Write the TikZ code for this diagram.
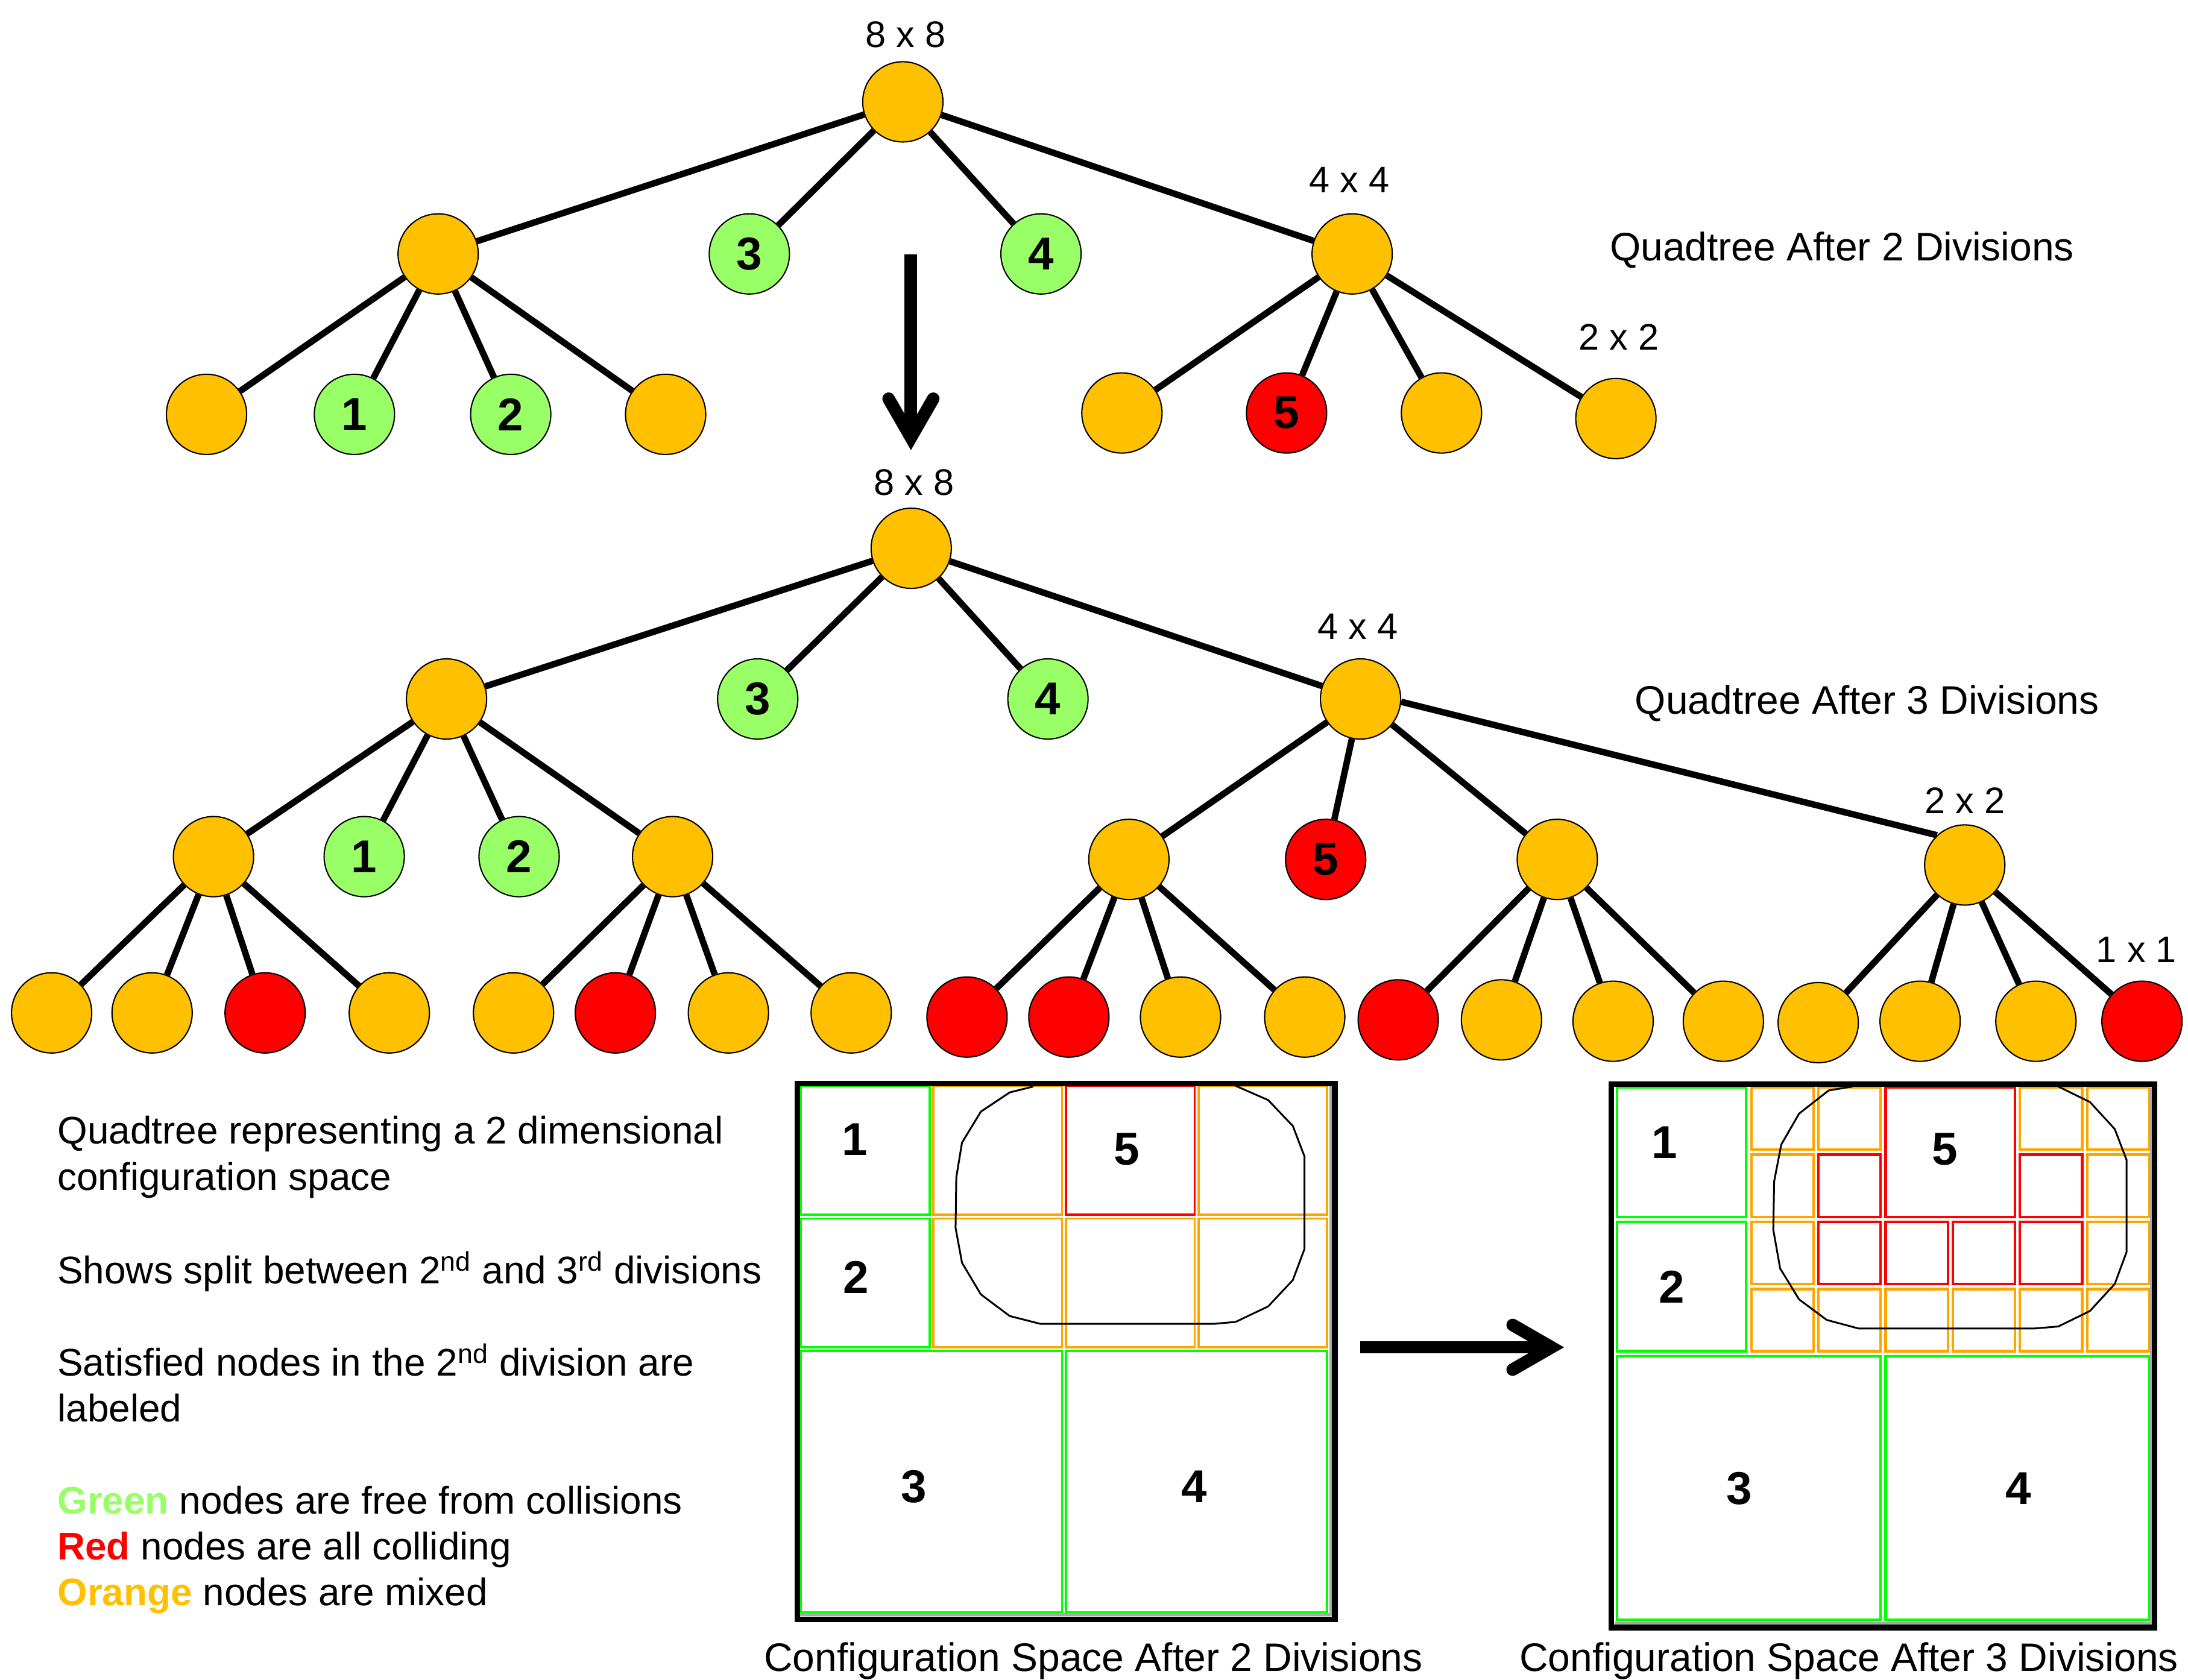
\documentclass[tikz,border=0pt]{standalone}
\usepackage{fontspec}
\setmainfont{Liberation Sans}
\definecolor{qorange}{HTML}{FFC000}
\definecolor{qgreen}{HTML}{99FF66}
\definecolor{qred}{HTML}{FF0000}
\definecolor{cgreen}{HTML}{00FF00}
\definecolor{corange}{HTML}{FFA500}
\definecolor{cred}{HTML}{FF0000}
\definecolor{shadowgray}{HTML}{A8A8A8}
\newcommand\qP{95}
\newcommand\qd{1.4}
\newcommand\qcell[4]{\draw[cellline,#4] ({#1*\qP+\qd},{#2*\qP+\qd}) rectangle ({(#1+#3)*\qP-\qd},{(#2+#3)*\qP-\qd});}
\tikzset{
  qnode/.style={circle, draw=black, line width=0.9pt, minimum size=57.5pt, inner sep=0pt,
    font=\fontsize{33}{33}\selectfont\bfseries},
  onode/.style={qnode, fill=qorange},
  gnode/.style={qnode, fill=qgreen},
  rnode/.style={qnode, fill=qred},
  treeline/.style={line width=4.6pt},
  szlabel/.style={anchor=base, inner sep=0pt, font=\fontsize{26.5}{30}\selectfont},
  titlelabel/.style={anchor=base, inner sep=0pt, font=\fontsize{28.5}{32}\selectfont},
  legendtext/.style={anchor=base west, inner sep=0pt, font=\fontsize{27.6}{32}\selectfont},
  cellnum/.style={inner sep=0pt, font=\fontsize{33}{33}\selectfont\bfseries},
  frameline/.style={line width=4pt},
  cellline/.style={line width=1.6pt},
  obstline/.style={line width=1.3pt, line join=round},
  shaftline/.style={line width=9pt},
  barbline/.style={line width=9pt, line cap=round, line join=miter},
}
\begin{document}
\begin{tikzpicture}[x=1pt, y=-1pt]
\useasboundingbox (0,0) rectangle (1568,1204);

% ---------------- Tree 1 ----------------
\node[onode] (a0) at (647,73) {};
\node[onode] (a1) at (314,182) {};
\node[gnode] (a2) at (537,182) {3};
\node[gnode] (a3) at (746,182) {4};
\node[onode] (a4) at (969,182) {};
\node[onode] (a11) at (148,297) {};
\node[gnode] (a12) at (254,297) {1};
\node[gnode] (a13) at (366,297) {2};
\node[onode] (a14) at (477,297) {};
\node[onode] (a41) at (804,296) {};
\node[rnode] (a42) at (922,296) {5};
\node[onode] (a43) at (1033,296) {};
\node[onode] (a44) at (1158,300) {};
\foreach \c in {a1,a2,a3,a4} \draw[treeline] (a0) -- (\c);
\foreach \c in {a11,a12,a13,a14} \draw[treeline] (a1) -- (\c);
\foreach \c in {a41,a42,a43,a44} \draw[treeline] (a4) -- (\c);
\node[szlabel] (la0) at (649,34) {8 x 8};
\node[szlabel] (la4) at (967,138) {4 x 4};
\node[szlabel] (la44) at (1160,251) {2 x 2};
\node[titlelabel] (t1) at (1320,187) {Quadtree After 2 Divisions};

% ---------------- Down arrow ----------------
\coordinate (dA) at (652.8,182.2);
\coordinate (dB) at (652.8,313.6);
\coordinate (dL) at (636.8,285.8);
\coordinate (dR) at (668.8,285.8);
\draw[shaftline] (dA) -- (dB);
\draw[barbline] (dL) -- (dB) -- (dR);

% ---------------- Tree 2 ----------------
\node[onode] (b0) at (653,393) {};
\node[onode] (b1) at (320,501) {};
\node[gnode] (b2) at (543,501) {3};
\node[gnode] (b3) at (751,501) {4};
\node[onode] (b4) at (975,501) {};
\node[onode] (b11) at (153,614) {};
\node[gnode] (b12) at (261,614) {1};
\node[gnode] (b13) at (372,614) {2};
\node[onode] (b14) at (482,614) {};
\node[onode] (b41) at (809,616) {};
\node[rnode] (b42) at (950,616) {5};
\node[onode] (b43) at (1116,616) {};
\node[onode] (b44) at (1408,620) {};
\node[onode] (c1) at (37,726) {};
\node[onode] (c2) at (109,726) {};
\node[rnode] (c3) at (190,726) {};
\node[onode] (c4) at (279,726) {};
\node[onode] (c5) at (368,726) {};
\node[rnode] (c6) at (441,726) {};
\node[onode] (c7) at (522,726) {};
\node[onode] (c8) at (610,726) {};
\node[rnode] (c9) at (693,729) {};
\node[rnode] (c10) at (766,729) {};
\node[onode] (c11) at (846,729) {};
\node[onode] (c12) at (935,729) {};
\node[rnode] (c13) at (1002,731) {};
\node[onode] (c14) at (1076,731) {};
\node[onode] (c15) at (1156,732) {};
\node[onode] (c16) at (1235,732) {};
\node[onode] (c17) at (1303,733) {};
\node[onode] (c18) at (1376,732) {};
\node[onode] (c19) at (1459,732) {};
\node[rnode] (c20) at (1535,732) {};
\foreach \c in {b1,b2,b3,b4} \draw[treeline] (b0) -- (\c);
\foreach \c in {b11,b12,b13,b14} \draw[treeline] (b1) -- (\c);
\foreach \c in {b41,b42,b43} \draw[treeline] (b4) -- (\c);
\draw[treeline] (b4.-4) -- (b44.133);
\foreach \c in {c1,c2,c3,c4} \draw[treeline] (b11) -- (\c);
\foreach \c in {c5,c6,c7,c8} \draw[treeline] (b14) -- (\c);
\foreach \c in {c9,c10,c11,c12} \draw[treeline] (b41) -- (\c);
\foreach \c in {c13,c14,c15,c16} \draw[treeline] (b43) -- (\c);
\foreach \c in {c17,c18,c19,c20} \draw[treeline] (b44) -- (\c);
\node[szlabel] (lb0) at (655,355) {8 x 8};
\node[szlabel] (lb4) at (973,458) {4 x 4};
\node[szlabel] (lb44) at (1408,583) {2 x 2};
\node[szlabel] (lc20) at (1531,690) {1 x 1};
\node[titlelabel] (t2) at (1338,512) {Quadtree After 3 Divisions};

% ---------------- Legend ----------------
\node[legendtext] (g1) at (41,820) {Quadtree representing a 2 dimensional};
\node[legendtext] (g2) at (41,853) {configuration space};
\node[legendtext] (g3) at (41,920) {Shows split between 2\textsuperscript{nd} and 3\textsuperscript{rd} divisions};
\node[legendtext] (g4) at (41,986) {Satisfied nodes in the 2\textsuperscript{nd} division are};
\node[legendtext] (g5) at (41,1019) {labeled};
\node[legendtext] (g6) at (41,1085) {{\color{qgreen}\bfseries Green} nodes are free from collisions};
\node[legendtext] (g7) at (41,1118) {{\color{qred}\bfseries Red} nodes are all colliding};
\node[legendtext] (g8) at (41,1151) {{\color{qorange}\bfseries Orange} nodes are mixed};

% ---------------- Configuration space 1 ----------------
\begin{scope}[shift={(572.5,777)}]
  \qcell{0}{0}{1}{cgreen}
  \qcell{0}{1}{1}{cgreen}
  \qcell{0}{2}{2}{cgreen}
  \qcell{2}{2}{2}{cgreen}
  \qcell{1}{0}{1}{corange}
  \qcell{3}{0}{1}{corange}
  \qcell{1}{1}{1}{corange}
  \qcell{2}{1}{1}{corange}
  \qcell{3}{1}{1}{corange}
  \qcell{2}{0}{1}{cred}
\end{scope}
\draw[obstline] (885.5,778.3) -- (908.8,788.5) -- (926.5,807.1) -- (934.8,828.8) -- (934.8,895.3)
  -- (926.5,917.5) -- (908.8,936.4) -- (885.5,947.5) -- (870,948.9) -- (745.6,948.9)
  -- (723.6,943.3) -- (702.9,927.8) -- (689.4,905.1) -- (684.8,880.1) -- (685.3,844)
  -- (689.4,819) -- (702.9,796.8) -- (723.6,783) -- (740.5,778.8);
\draw[shadowgray, line width=2pt] (573.5,1157.4) -- (953.8,1157.4) -- (953.8,778.6);
\draw[frameline] (571.5,776.6) rectangle (956.6,1160.6);
\node[cellnum] (s1n1) at (612.7,816.8) {1};
\node[cellnum] (s1n2) at (613.5,915.3) {2};
\node[cellnum] (s1n5) at (807.3,823.8) {5};
\node[cellnum] (s1n3) at (655,1065.4) {3};
\node[cellnum] (s1n4) at (855.7,1065.4) {4};
\node[titlelabel] (cap1) at (783.5,1198) {Configuration Space After 2 Divisions};

% ---------------- Configuration space 2 ----------------
\begin{scope}[shift={(1156.9,777.7)}]
  \renewcommand\qP{48.15}
  \renewcommand\qd{1.8}
  \tikzset{cellline/.style={line width=1.8pt}}
  \qcell{0}{0}{2}{cgreen}
  \qcell{0}{2}{2}{cgreen}
  \qcell{0}{4}{4}{cgreen}
  \qcell{4}{4}{4}{cgreen}
  \qcell{4}{0}{2}{cred}
  \foreach \cc/\rr in {2/0,3/0,6/0,7/0,2/1,7/1,2/2,7/2,2/3,3/3,4/3,5/3,6/3,7/3}
    {\qcell{\cc}{\rr}{1}{corange}}
  \foreach \cc/\rr in {3/1,6/1,3/2,4/2,5/2,6/2}
    {\qcell{\cc}{\rr}{1}{cred}}
\end{scope}
\draw[obstline] (1475,778.8) -- (1497.7,789.9) -- (1515.5,809.3) -- (1524,831.5) -- (1524,897.3)
  -- (1515.5,920.3) -- (1497.7,939.7) -- (1475,950.8) -- (1458,952.2) -- (1331.8,952.2)
  -- (1309.1,946.1) -- (1289.3,931.4) -- (1275.7,909.2) -- (1270.8,881.5) -- (1271.4,846.8)
  -- (1276.5,820.4) -- (1289.3,798.2) -- (1310.5,781.6) -- (1327.5,778.8);
\draw[shadowgray, line width=2pt] (1157,1163.4) -- (1541.6,1163.4) -- (1541.6,779.5);
\draw[frameline] (1154.6,777.2) rectangle (1543.9,1166.6);
\node[cellnum] (s2n1) at (1192.9,819) {1};
\node[cellnum] (s2n2) at (1198,922.5) {2};
\node[cellnum] (s2n5) at (1393.6,823.8) {5};
\node[cellnum] (s2n3) at (1246.2,1066.8) {3};
\node[cellnum] (s2n4) at (1446.6,1066.8) {4};
\node[titlelabel] (cap2) at (1325,1198) {Configuration Space After 3 Divisions};

% ---------------- Right arrow ----------------
\coordinate (rA) at (974.8,965.7);
\coordinate (rB) at (1111.8,965.7);
\coordinate (rU) at (1084,949.7);
\coordinate (rD) at (1084,981.7);
\draw[shaftline] (rA) -- (rB);
\draw[barbline] (rU) -- (rB) -- (rD);
\end{tikzpicture}
\end{document}
